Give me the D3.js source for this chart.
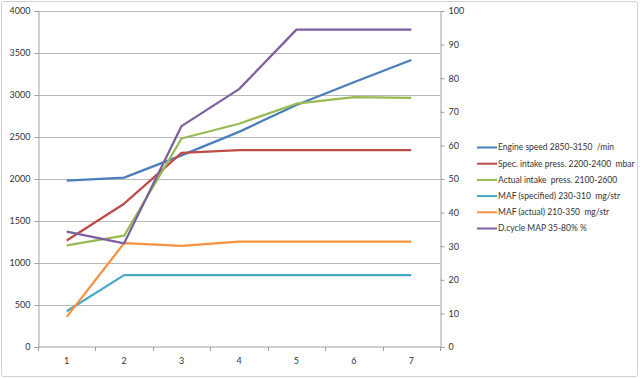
<!DOCTYPE html>
<html>
<head>
<meta charset="UTF-8" />
<script src="https://d3js.org/d3.v7.min.js"></script>
<style>
    body { margin: 0; background: #fff; }
    text { font-family: Lato, "Open Sans", sans-serif; fill: #333; white-space: pre; }
</style>
</head>
<body>
<div id="chart"></div>
<script>
    const width = 640;
    const height = 378;

    const categories = [1, 2, 3, 4, 5, 6, 7];
    const leftTicks = [0, 500, 1000, 1500, 2000, 2500, 3000, 3500, 4000];
    const rightTicks = [0, 10, 20, 30, 40, 50, 60, 70, 80, 90, 100];

    // left axis series
    const engineSpeed = [1975, 2010, 2275, 2555, 2875, 3145, 3410];
    const specIntake = [1262, 1700, 2305, 2337, 2337, 2337, 2337];
    const actualIntake = [1205, 1320, 2476, 2652, 2890, 2970, 2960];
    const mafSpecified = [420, 850, 850, 850, 850, 850, 850];
    const mafActual = [352, 1230, 1198, 1248, 1248, 1248, 1248];
    // right axis series
    const dutyCycle = [34.2, 30.7, 65.6, 76.6, 94.3, 94.3, 94.3];

    const series = [
        { name: "Engine speed 2850-3150  /min", values: engineSpeed, color: "#4a7ebb", axis: "left" },
        { name: "Spec. intake press. 2200-2400  mbar", values: specIntake, color: "#be4b48", axis: "left" },
        { name: "Actual intake  press. 2100-2600", values: actualIntake, color: "#98b954", axis: "left" },
        { name: "MAF (specified) 230-310  mg/str", values: mafSpecified, color: "#46aac5", axis: "left" },
        { name: "MAF (actual) 210-350  mg/str", values: mafActual, color: "#f69240", axis: "left" },
        { name: "D.cycle MAP 35-80% %", values: dutyCycle, color: "#7d5fa0", axis: "right" }
    ];

    const plot = { left: 38, right: 440, top: 10.5, bottom: 346.5 };

    const x = d3.scaleBand().domain(categories).range([plot.left, plot.right]);
    const yL = d3.scaleLinear().domain([0, 4000]).range([plot.bottom, plot.top]);
    const yR = d3.scaleLinear().domain([0, 100]).range([plot.bottom, plot.top]);

    const svg = d3.select("#chart").append("svg")
        .attr("width", width)
        .attr("height", height);

    svg.append("rect")
        .attr("x", 1.5).attr("y", 1.5)
        .attr("width", width - 4).attr("height", height - 3)
        .attr("rx", 2)
        .attr("fill", "#fff")
        .attr("stroke", "#d0d0d0");

    // gridlines
    svg.append("g")
        .selectAll("line")
        .data(leftTicks.slice(1))
        .join("line")
        .attr("x1", plot.left).attr("x2", plot.right)
        .attr("y1", d => Math.round(yL(d)) + 0.5)
        .attr("y2", d => Math.round(yL(d)) + 0.5)
        .attr("stroke", "#b8b8b8");

    const axisColor = "#a0a0a0";

    const leftAxis = svg.append("g")
        .attr("transform", `translate(${plot.left + 0.5},0.5)`)
        .call(d3.axisLeft(yL).tickValues(leftTicks).tickFormat(d3.format("d")).tickSize(4).tickPadding(4));
    const rightAxis = svg.append("g")
        .attr("transform", `translate(${plot.right + 0.5},0.5)`)
        .call(d3.axisRight(yR).tickValues(rightTicks).tickSize(4).tickPadding(4));

    const bottomAxis = svg.append("g")
        .attr("transform", `translate(0,${plot.bottom + 0.5})`)
        .call(d3.axisBottom(x).tickSize(0).tickPadding(11));
    // tick marks on category boundaries
    bottomAxis.selectAll(".bound")
        .data(d3.range(categories.length + 1))
        .join("line")
        .attr("class", "bound")
        .attr("x1", i => Math.round(plot.left + i * x.step()) + 0.5)
        .attr("x2", i => Math.round(plot.left + i * x.step()) + 0.5)
        .attr("y1", 0).attr("y2", 4)
        .attr("stroke", axisColor);

    [leftAxis, rightAxis, bottomAxis].forEach(g => {
        g.select(".domain").attr("stroke", axisColor);
        g.selectAll(".tick line").attr("stroke", axisColor);
        g.selectAll("text").attr("font-size", 9).attr("fill", "#333")
            .attr("font-family", "Lato, 'Open Sans', sans-serif");
    });
    bottomAxis.select(".domain").attr("d", `M${plot.left},0H${plot.right + 1}`);

    // lines
    const line = (scale) => d3.line()
        .x((d, i) => x(categories[i]) + x.bandwidth() / 2)
        .y(d => scale(d));

    svg.append("g")
        .selectAll("path")
        .data(series)
        .join("path")
        .attr("d", s => line(s.axis === "left" ? yL : yR)(s.values))
        .attr("fill", "none")
        .attr("stroke", s => s.color)
        .attr("stroke-width", 2.25)
        .attr("stroke-linejoin", "round");

    // legend
    const legend = svg.append("g")
        .attr("transform", "translate(477,147.5)");
    const item = legend.selectAll("g")
        .data(series)
        .join("g")
        .attr("transform", (d, i) => `translate(0,${i * 16.2})`);
    item.append("line")
        .attr("x1", 0).attr("x2", 20)
        .attr("stroke", d => d.color)
        .attr("stroke-width", 2);
    item.append("text")
        .attr("x", 21)
        .attr("dy", "0.35em")
        .attr("font-size", 8.5)
        .text(d => d.name);
</script>
</body>
</html>
